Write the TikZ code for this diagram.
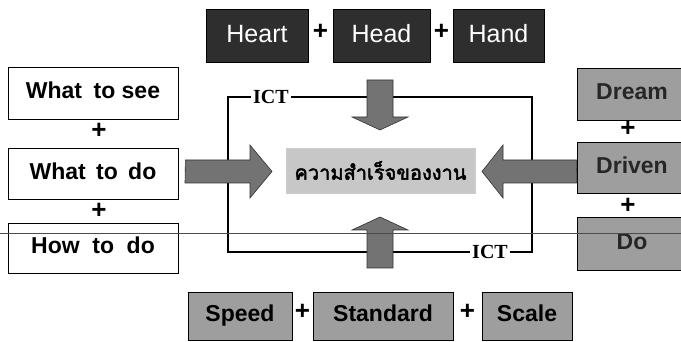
\documentclass[tikz,border=0pt]{standalone}
\usepackage{fontspec}
\setmainfont{Liberation Sans}
\newfontfamily\thaifont[Script=Thai,FakeBold=2.2]{Loma}
\newfontfamily\serifbf{Liberation Serif}
\begin{document}
\begin{tikzpicture}[x=1pt,y=-1pt,
  topbox/.style={draw=black,line width=0.8pt,fill=black!82,text=white,inner sep=0pt,
     font=\fontsize{25}{28}\selectfont},
  leftbox/.style={draw=black,line width=0.8pt,fill=white,inner sep=0pt,minimum width=170pt,
     font=\fontsize{23}{26}\selectfont\bfseries,text height=17pt,text depth=5pt},
  rightbox/.style={draw=black,line width=0.8pt,fill=black!38,inner sep=0pt,minimum width=110pt,
     font=\fontsize{23}{26}\selectfont\bfseries,text=black!85,text height=17pt,text depth=5pt},
  botbox/.style={draw=black,line width=0.8pt,fill=black!38,inner sep=0pt,minimum height=48pt,
     font=\fontsize{23}{26}\selectfont\bfseries,text height=17pt,text depth=5pt},
  plus/.style={inner sep=0pt,font=\fontsize{26}{28}\selectfont\bfseries},
  ictlabel/.style={fill=white,inner sep=2pt,font=\fontsize{20}{22}\selectfont\serifbf\bfseries},
  fatarrow/.style={draw=black!80,line width=0.6pt,fill=black!55},
  loop/.style={draw=black,line width=1.2pt}
]
\useasboundingbox (0,0) rectangle (681,342);
% ICT loop
\draw[loop] (228,97) rectangle (532,252);
\node[ictlabel] (ict1) at (271,97) {ICT};
\node[ictlabel] (ict2) at (490,252) {ICT};
% top boxes
\node[topbox,minimum width=102pt,minimum height=53pt] (heart) at (257,35.5) {\raisebox{4pt}{Heart}};
\node[topbox,minimum width=97pt,minimum height=53pt] (head) at (381.5,35.5) {\raisebox{4pt}{Head}};
\node[topbox,minimum width=91pt,minimum height=53pt] (hand) at (498.5,35.5) {\raisebox{4pt}{Hand}};
\node[plus] (p1) at (320.5,32) {+};
\node[plus] (p2) at (441.5,32) {+};
% left boxes
\node[leftbox,minimum height=52pt] (see) at (93,93) {What\hspace{0.5em}to see};
\node[leftbox,minimum height=51pt] (do) at (93,173.5) {What\hspace{0.45em}to\hspace{0.45em}do};
\node[leftbox,minimum height=50pt] (how) at (93,248) {How\hspace{0.55em}to\hspace{0.55em}do};
\node[plus] (p3) at (99,131) {+};
\node[plus] (p4) at (99,211) {+};
% right boxes
\node[rightbox,minimum height=52pt] (dream) at (632,94) {Dream};
\node[rightbox,minimum height=51pt] (driven) at (632,167.5) {Driven};
\node[rightbox,minimum height=53pt] (rdo) at (632,243.5) {Do};
\node[plus] (p5) at (628,129) {+};
\node[plus] (p6) at (628,206) {+};
% bottom boxes
\node[botbox,minimum width=104pt] (speed) at (240,316) {Speed};
\node[botbox,minimum width=140pt] (standard) at (383,316) {Standard};
\node[botbox,minimum width=90pt] (scale) at (527,316) {Scale};
\node[plus] (p7) at (302.5,312) {+};
\node[plus] (p8) at (467.5,312) {+};
% center
\node[draw=black!20,fill=black!22,minimum width=189pt,minimum height=45pt,inner sep=0pt,
  font=\fontsize{20}{22}\selectfont\thaifont] (c) at (380.5,170.5) {ความสำเร็จของงาน};
% fat arrows
\draw[fatarrow] (367,80) -- (393,80) -- (393,117) -- (408,117) -- (380,130) -- (352,117) -- (367,117) -- cycle;
\draw[fatarrow] (367,268) -- (393,268) -- (393,230) -- (408,230) -- (380,217) -- (352,230) -- (367,230) -- cycle;
\draw[fatarrow] (do.east) ++(7,-13.5) -- (250,160) -- (250,145) -- (272,171.5) -- (250,198) -- (250,183) -- (185,183) -- cycle;
\draw[fatarrow] (driven.west) ++(0,-7.5) -- (503,160) -- (503,145) -- (482,171.5) -- (503,198) -- (503,183) -- (577,183) -- cycle;
% scan line
\draw[black!70,line width=0.5pt] (0,233) -- (681,233);
\end{tikzpicture}
\end{document}
